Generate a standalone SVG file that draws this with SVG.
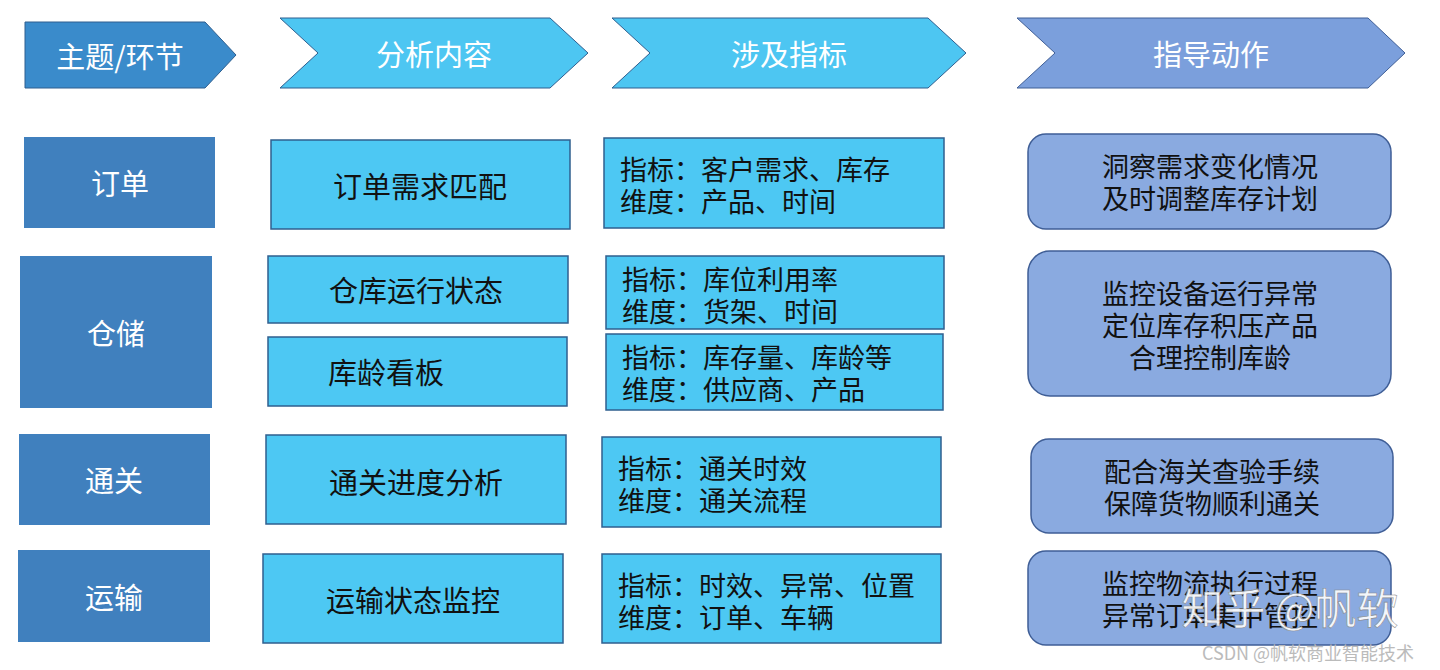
<svg xmlns="http://www.w3.org/2000/svg" width="1440" height="670" viewBox="0 0 1440 670">
<style>
text{font-family:"Noto Sans CJK SC","Liberation Sans",sans-serif;text-anchor:middle;dominant-baseline:central}
.h{fill:#fff;font-size:29px}
.c1{fill:#4080BE}
.c1t{fill:#fff;font-size:29px}
.c2{fill:#4DC8F3;stroke:#2F5F8F;stroke-width:1.5}
.t{fill:#111;font-size:27px}
.a{font-size:29px}
.c4{fill:#8AAAE0;stroke:#3F5E96;stroke-width:1.5}
.l{text-anchor:start}
</style>
<rect width="1440" height="670" fill="#fff"/>
<g id="headers">
<g id="h1"><polygon points="25,22 205,22 236,55 205,88 25,88" fill="#3A8BCB" stroke="#2F5F8F"/><text class="h" x="120" y="55">主题/环节</text></g>
<g id="h2"><polygon points="280,18 550,18 588,53 550,88 280,88 318,53" fill="#4DC6F2" stroke="#2F5F8F"/><text class="h" x="434" y="53">分析内容</text></g>
<g id="h3"><polygon points="612,18 928,18 966,53 928,88 612,88 650,53" fill="#4DC6F2" stroke="#2F5F8F"/><text class="h" x="789" y="53">涉及指标</text></g>
<g id="h4"><polygon points="1017,18 1368,18 1405,53 1368,88 1017,88 1055,53" fill="#7B9FDC" stroke="#3F5E96"/><text class="h" x="1211" y="53">指导动作</text></g>
</g>
<g id="col1">
<g id="n-order"><rect class="c1" x="24" y="137" width="191" height="91"/><text class="c1t" x="120" y="182">订单</text></g>
<g id="n-store"><rect class="c1" x="20" y="256" width="192" height="152"/><text class="c1t" x="116" y="332">仓储</text></g>
<g id="n-customs"><rect class="c1" x="19" y="434" width="191" height="91"/><text class="c1t" x="114" y="479">通关</text></g>
<g id="n-trans"><rect class="c1" x="18" y="550" width="192" height="92"/><text class="c1t" x="114" y="596">运输</text></g>
</g>
<g id="col2">
<g id="a1"><rect class="c2" x="271" y="140" width="299" height="89"/><text class="t a" x="420" y="185">订单需求匹配</text></g>
<g id="a2"><rect class="c2" x="268" y="256" width="300" height="67"/><text class="t a" x="416" y="289">仓库运行状态</text></g>
<g id="a3"><rect class="c2" x="268" y="337" width="299" height="69"/><text class="t a" x="386" y="371">库龄看板</text></g>
<g id="a4"><rect class="c2" x="266" y="435" width="300" height="89"/><text class="t a" x="416" y="481">通关进度分析</text></g>
<g id="a5"><rect class="c2" x="263" y="554" width="300" height="89"/><text class="t a" x="413" y="599">运输状态监控</text></g>
</g>
<g id="col3">
<g id="m1"><rect class="c2" x="604" y="138" width="340" height="90"/><text class="t l" x="620" y="168">指标：客户需求、库存</text><text class="t l" x="620" y="200">维度：产品、时间</text></g>
<g id="m2"><rect class="c2" x="606" y="256" width="338" height="73"/><text class="t l" x="622" y="278">指标：库位利用率</text><text class="t l" x="622" y="310">维度：货架、时间</text></g>
<g id="m3"><rect class="c2" x="606" y="334" width="337" height="76"/><text class="t l" x="622" y="356">指标：库存量、库龄等</text><text class="t l" x="622" y="388">维度：供应商、产品</text></g>
<g id="m4"><rect class="c2" x="602" y="437" width="339" height="90"/><text class="t l" x="618" y="467">指标：通关时效</text><text class="t l" x="618" y="499">维度：通关流程</text></g>
<g id="m5"><rect class="c2" x="602" y="554" width="339" height="89"/><text class="t l" x="618" y="584">指标：时效、异常、位置</text><text class="t l" x="618" y="616">维度：订单、车辆</text></g>
</g>
<g id="col4">
<g id="g1"><rect class="c4" x="1028" y="134" width="363" height="95" rx="18"/><text class="t" x="1210" y="165">洞察需求变化情况</text><text class="t" x="1210" y="197">及时调整库存计划</text></g>
<g id="g2"><rect class="c4" x="1028" y="251" width="363" height="145" rx="22"/><text class="t" x="1210" y="292">监控设备运行异常</text><text class="t" x="1210" y="324">定位库存积压产品</text><text class="t" x="1210" y="356">合理控制库龄</text></g>
<g id="g3"><rect class="c4" x="1031" y="439" width="362" height="94" rx="18"/><text class="t" x="1212" y="470">配合海关查验手续</text><text class="t" x="1212" y="502">保障货物顺利通关</text></g>
<g id="g4"><rect class="c4" x="1028" y="551" width="363" height="94" rx="18"/><text class="t" x="1210" y="582">监控物流执行过程</text><text class="t" x="1210" y="614">异常订单集中管控</text></g>
</g>
<g id="connectors"/>
<text x="1290" y="605" font-size="42" fill="#fff" stroke="#888" stroke-width="0.6" opacity="0.9">知乎 @帆软</text>
<text x="1308" y="652" font-size="18" fill="#bbb">CSDN @帆软商业智能技术</text>
</svg>
